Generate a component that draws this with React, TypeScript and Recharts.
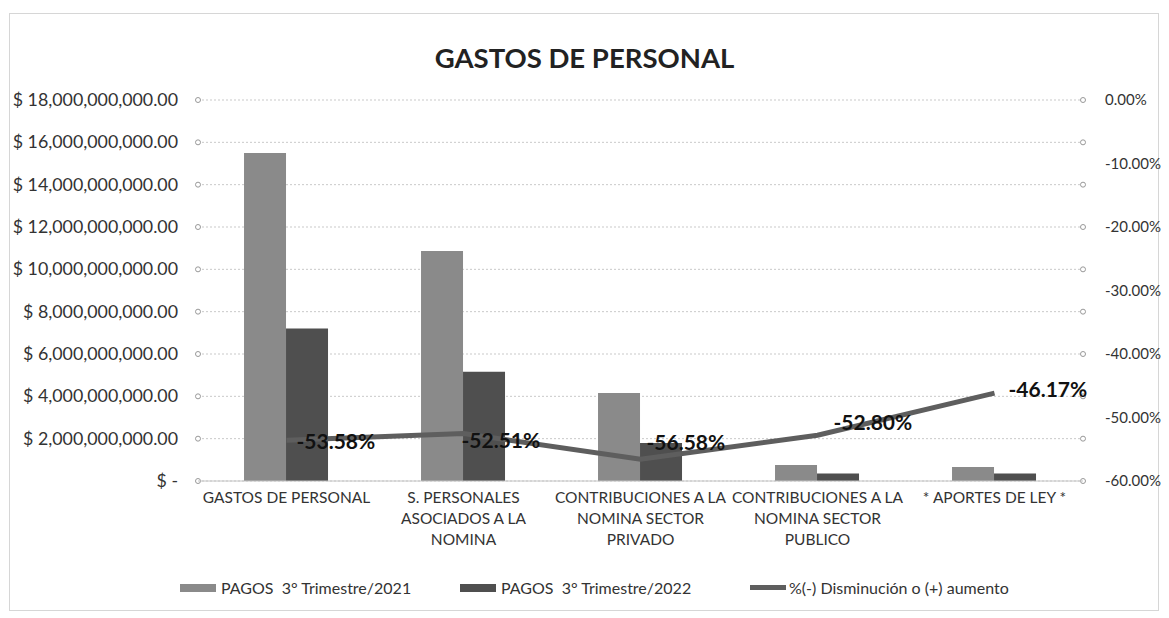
import React from "react";
import {
  ComposedChart,
  Bar,
  Line,
  XAxis,
  YAxis,
  CartesianGrid,
  Legend,
  LabelList,
} from "recharts";

const categories = [
  "GASTOS DE PERSONAL",
  "S. PERSONALES\nASOCIADOS A LA\nNOMINA",
  "CONTRIBUCIONES A LA\nNOMINA SECTOR\nPRIVADO",
  "CONTRIBUCIONES A LA\nNOMINA SECTOR\nPUBLICO",
  "* APORTES DE LEY *",
];
const pagos2021 = [15.5e9, 10.87e9, 4.16e9, 0.76e9, 0.66e9];
const pagos2022 = [7.2e9, 5.16e9, 1.8e9, 0.36e9, 0.36e9];
const variacion = [-0.5358, -0.5251, -0.5658, -0.528, -0.4617];
const leftTicks = [0, 2e9, 4e9, 6e9, 8e9, 10e9, 12e9, 14e9, 16e9, 18e9];
const rightTicks = [-0.6, -0.5, -0.4, -0.3, -0.2, -0.1, 0];
const seriesNames = [
  "PAGOS  3° Trimestre/2021",
  "PAGOS  3° Trimestre/2022",
  "%(-) Disminución o (+) aumento",
];

const data = categories.map((c, i) => ({
  name: c,
  p2021: pagos2021[i],
  p2022: pagos2022[i],
  pct: variacion[i],
}));

const FONT = "Lato, 'Open Sans', sans-serif";
const C2021 = "#8a8a8a";
const C2022 = "#4f4f4f";
const CLINE = "#5e5e5e";

const fmtMoney = (v: number) => {
  if (v === 0) return "$ -";
  return (
    "$ " +
    v.toLocaleString("en-US", { minimumFractionDigits: 2, maximumFractionDigits: 2 })
  );
};
const fmtPct = (v: number) => (v * 100).toFixed(2) + "%";

const CategoryTick = (props: any) => {
  const { x, y, payload } = props;
  const lines = String(payload.value).split("\n");
  return (
    <g>
      {lines.map((l: string, i: number) => (
        <text
          key={i}
          x={x}
          y={y + 14 + i * 21}
          textAnchor="middle"
          fontFamily={FONT}
          fontSize={15.5}
          fill="#333"
        >
          {l}
        </text>
      ))}
    </g>
  );
};

const LeftTick = (props: any) => {
  const { x, y, payload } = props;
  return (
    <text
      x={x - 12}
      y={y}
      dy={6}
      textAnchor="end"
      fontFamily={FONT}
      fontSize={17.8}
      fill="#333"
    >
      {fmtMoney(payload.value)}
    </text>
  );
};

const RightTick = (props: any) => {
  const { x, y, payload } = props;
  return (
    <text
      x={x + 14}
      y={y}
      dy={5}
      textAnchor="start"
      fontFamily={FONT}
      fontSize={15}
      fill="#333"
    >
      {fmtPct(payload.value)}
    </text>
  );
};

const labelNudge = [
  { dx: 10, dy: 2 },
  { dx: -2, dy: 8 },
  { dx: 6, dy: -16 },
  { dx: 16, dy: -12 },
  { dx: 14, dy: -3 },
];

const PctLabel = (props: any) => {
  const { x, y, value, index } = props;
  const n = labelNudge[index] || { dx: 8, dy: 0 };
  return (
    <text
      x={x + n.dx}
      y={y + n.dy}
      dy={7}
      textAnchor="start"
      fontFamily={FONT}
      fontWeight={700}
      fontSize={21}
      fill="#111"
    >
      {fmtPct(value)}
    </text>
  );
};

const GridLine = (props: any) => {
  const { x1, x2, y1, y2 } = props;
  return (
    <g>
      <line
        x1={x1}
        x2={x2}
        y1={y1}
        y2={y2}
        stroke="#c9c9c9"
        strokeWidth={1}
        strokeDasharray="2 2"
      />
      <circle cx={x1} cy={y1} r={2.5} fill="#fff" stroke="#999" strokeWidth={1} />
      <circle cx={x2} cy={y2} r={2.5} fill="#fff" stroke="#999" strokeWidth={1} />
    </g>
  );
};

const LegendContent = () => (
  <div
    style={{
      height: 40,
      display: "flex",
      alignItems: "flex-start",
      fontFamily: FONT,
      fontSize: 16,
      color: "#333",
      paddingLeft: 180,
      boxSizing: "border-box",
      whiteSpace: "pre",
    }}
  >
    <div style={{ display: "flex", alignItems: "center", width: 280 }}>
      <span style={{ display: "inline-block", width: 36, height: 8, background: C2021, marginRight: 5 }} />
      <span>{seriesNames[0]}</span>
    </div>
    <div style={{ display: "flex", alignItems: "center", width: 290 }}>
      <span style={{ display: "inline-block", width: 36, height: 8, background: C2022, marginRight: 5 }} />
      <span>{seriesNames[1]}</span>
    </div>
    <div style={{ display: "flex", alignItems: "center" }}>
      <span style={{ display: "inline-block", width: 36, height: 5, background: CLINE, marginRight: 3 }} />
      <span>{seriesNames[2]}</span>
    </div>
  </div>
);

export default function App() {
  return (
    <div
      style={{
        position: "absolute",
        left: 0,
        top: 0,
        width: 1169,
        height: 618,
        background: "#fff",
        overflow: "hidden",
      }}
    >
      <div
        style={{
          position: "absolute",
          left: 9,
          top: 13,
          width: 1150,
          height: 598,
          border: "1px solid #d6d6d6",
          boxSizing: "border-box",
        }}
      />
      <div
        style={{
          position: "absolute",
          left: 0,
          top: 40,
          width: 1169,
          textAlign: "center",
          fontFamily: FONT,
          fontWeight: 700,
          fontSize: 27.5,
          color: "#222",
          lineHeight: "36px",
        }}
      >
        GASTOS DE PERSONAL
      </div>
      <div style={{ position: "absolute", left: 0, top: 0 }}>
        <ComposedChart
          width={1169}
          height={618}
          data={data}
          margin={{ top: 100, right: 0, bottom: 0, left: 0 }}
          barCategoryGap="26%"
          barGap={0}
        >
          <CartesianGrid
            vertical={false}
            horizontal={GridLine as any}
            yAxisId="left"
          />
          <XAxis
            dataKey="name"
            tick={<CategoryTick />}
            tickLine={false}
            axisLine={{ stroke: "#c4c4c4" }}
            interval={0}
            height={97}
          />
          <YAxis
            yAxisId="left"
            orientation="left"
            domain={[0, 18e9]}
            ticks={leftTicks}
            width={198}
            tick={<LeftTick />}
            tickLine={false}
            axisLine={false}
          />
          <YAxis
            yAxisId="right"
            orientation="right"
            domain={[-0.6, 0]}
            ticks={rightTicks}
            width={86}
            tick={<RightTick />}
            tickLine={false}
            axisLine={false}
          />
          <Legend verticalAlign="bottom" content={<LegendContent />} wrapperStyle={{ height: 40 }} />
          <Bar
            yAxisId="left"
            dataKey="p2021"
            name={seriesNames[0]}
            fill={C2021}
            isAnimationActive={false}
          />
          <Bar
            yAxisId="left"
            dataKey="p2022"
            name={seriesNames[1]}
            fill={C2022}
            isAnimationActive={false}
          />
          <Line
            yAxisId="right"
            dataKey="pct"
            name={seriesNames[2]}
            type="linear"
            stroke={CLINE}
            strokeWidth={5}
            dot={false}
            isAnimationActive={false}
          >
            <LabelList dataKey="pct" content={<PctLabel />} />
          </Line>
        </ComposedChart>
      </div>
    </div>
  );
}
